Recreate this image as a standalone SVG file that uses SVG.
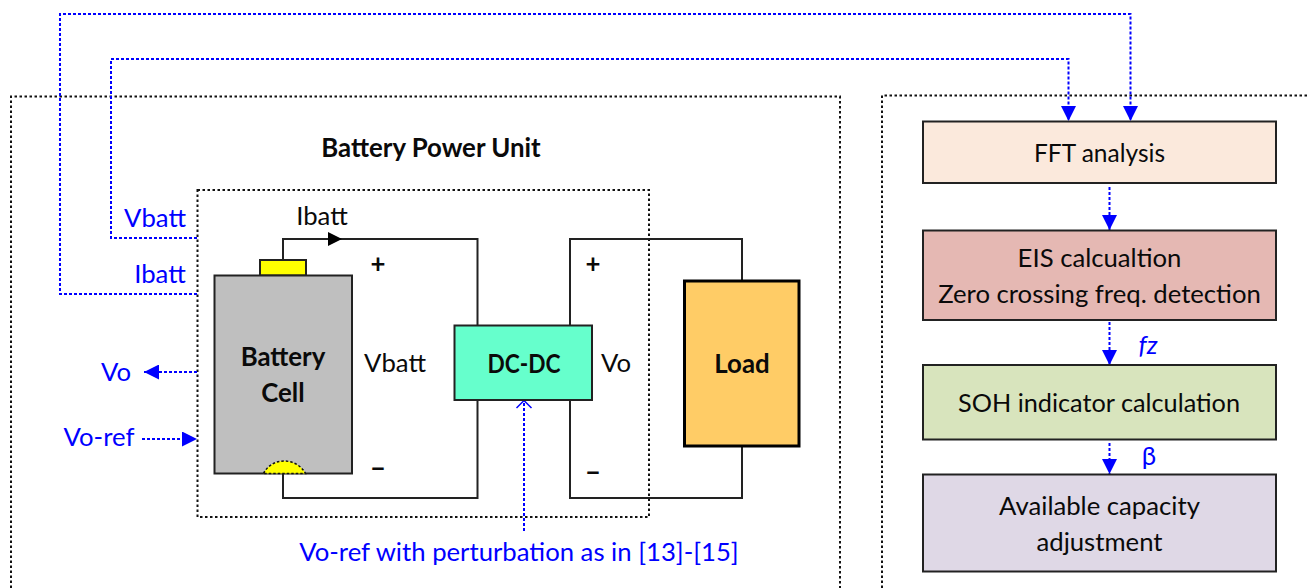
<svg xmlns="http://www.w3.org/2000/svg" width="1309" height="588" viewBox="0 0 1309 588">
<style>
text{font-family:Lato,"Open Sans",sans-serif;font-size:25.700px;fill:#0a0a0a;text-anchor:middle}
.b{font-weight:700;font-size:25.800px}
.blue{fill:#0000ff}
.box{fill:none;stroke:#111;stroke-width:2;stroke-dasharray:2.500 2.500}
.w{fill:none;stroke:#222;stroke-width:2}
.sig{fill:none;stroke:#0000ff;stroke-width:2;stroke-dasharray:3 2}
.n{stroke:#222;stroke-width:2}
</style>
<defs>
<marker id="ah" viewBox="0 0 15 15" refX="15" refY="7.500" markerWidth="15" markerHeight="15" markerUnits="userSpaceOnUse" orient="auto"><path d="M0 0L15 7.500L0 15Z" fill="#0000ff"/></marker>
</defs>
<g id="boundaries">
<path class="box" d="M11 588V96.500H840V588"/>
<path class="box" d="M882 588V95.500H1311"/>
<rect class="box" x="197.500" y="190" width="451.500" height="327"/>
</g>
<g id="connectors">
<path class="w" d="M283 260V239H477.500V326"/>
<path class="w" d="M283 473V498H477.500V400"/>
<path class="w" d="M570 326V239H742V281"/>
<path class="w" d="M570 400V498H742V446"/>
<path d="M328 232L342 239L328 246Z" fill="#000"/>
<path class="sig" d="M197 238H111V59H1068.500V121" marker-end="url(#ah)"/>
<path class="sig" d="M197 294H60V14H1130.500V121" marker-end="url(#ah)"/>
<path class="sig" d="M197 372H144" marker-end="url(#ah)"/>
<path class="sig" d="M142 439H197" marker-end="url(#ah)"/>
<path class="sig" d="M524 531V401"/>
<path d="M516.500 408L524 400.500L531.500 408" fill="none" stroke="#0000ff" stroke-width="1.500"/>
<path class="sig" d="M1109.500 187V230" marker-end="url(#ah)"/>
<path class="sig" d="M1109.500 322V365" marker-end="url(#ah)"/>
<path class="sig" d="M1109.500 443V474" marker-end="url(#ah)"/>
</g>
<g id="battery-cell">
<rect class="n" x="260" y="260" width="46" height="15.500" fill="#ffff00"/>
<rect class="n" x="214.500" y="275.500" width="137.500" height="198" fill="#bfbfbf"/>
<path d="M263.500 473.500C268 465 276 461 284 461C292 461 301 465 305.500 473.500Z" fill="#ffff00" stroke="#111" stroke-width="1.500" stroke-dasharray="2.500 2"/>
<text class="b" x="283" y="366">Battery</text>
<text class="b" x="283" y="402">Cell</text>
</g>
<g id="dc-dc">
<rect class="n" x="454.500" y="325.500" width="137.500" height="74.500" fill="#66ffcc"/>
<text class="b" x="524" y="373" textLength="73" lengthAdjust="spacingAndGlyphs">DC-DC</text>
</g>
<g id="load">
<rect x="684.500" y="281" width="114.500" height="165" fill="#ffcc66" stroke="#000" stroke-width="3"/>
<text class="b" x="742" y="373">Load</text>
</g>
<g id="fft">
<rect class="n" x="923" y="121.500" width="353" height="61.500" fill="#fbe9dc"/>
<text x="1099.500" y="162" textLength="131" lengthAdjust="spacingAndGlyphs">FFT analysis</text>
</g>
<g id="eis">
<rect class="n" x="923" y="230.500" width="353" height="89.500" fill="#e5b8b3"/>
<text x="1099.500" y="267">EIS calcualtion</text>
<text x="1099.500" y="303">Zero crossing freq. detection</text>
</g>
<g id="soh">
<rect class="n" x="923" y="365" width="353" height="74.500" fill="#d8e4bd"/>
<text x="1099" y="412" textLength="282" lengthAdjust="spacingAndGlyphs">SOH indicator calculation</text>
</g>
<g id="capacity">
<rect class="n" x="923" y="474.500" width="353" height="97" fill="#dfd8e6"/>
<text x="1099.500" y="515">Available capacity</text>
<text x="1099.500" y="551">adjustment</text>
</g>
<g id="labels">
<text class="b" x="431" y="157">Battery Power Unit</text>
<text x="322" y="225">Ibatt</text>
<text x="395" y="372">Vbatt</text>
<text x="616" y="372">Vo</text>
<text class="b" x="378" y="273">+</text>
<text class="b" x="593" y="273">+</text>
<text class="b" x="378" y="478">−</text>
<text class="b" x="593" y="482">−</text>
<text class="blue" x="155" y="227">Vbatt</text>
<text class="blue" x="160" y="283">Ibatt</text>
<text class="blue" x="116" y="381">Vo</text>
<text class="blue" x="99" y="446">Vo-ref</text>
<text class="blue" x="519" y="561">Vo-ref with perturbation as in [13]-[15]</text>
<text class="blue" x="1148" y="354" font-style="italic">fz</text>
<text class="blue" x="1149" y="465">β</text>
</g>
</svg>
